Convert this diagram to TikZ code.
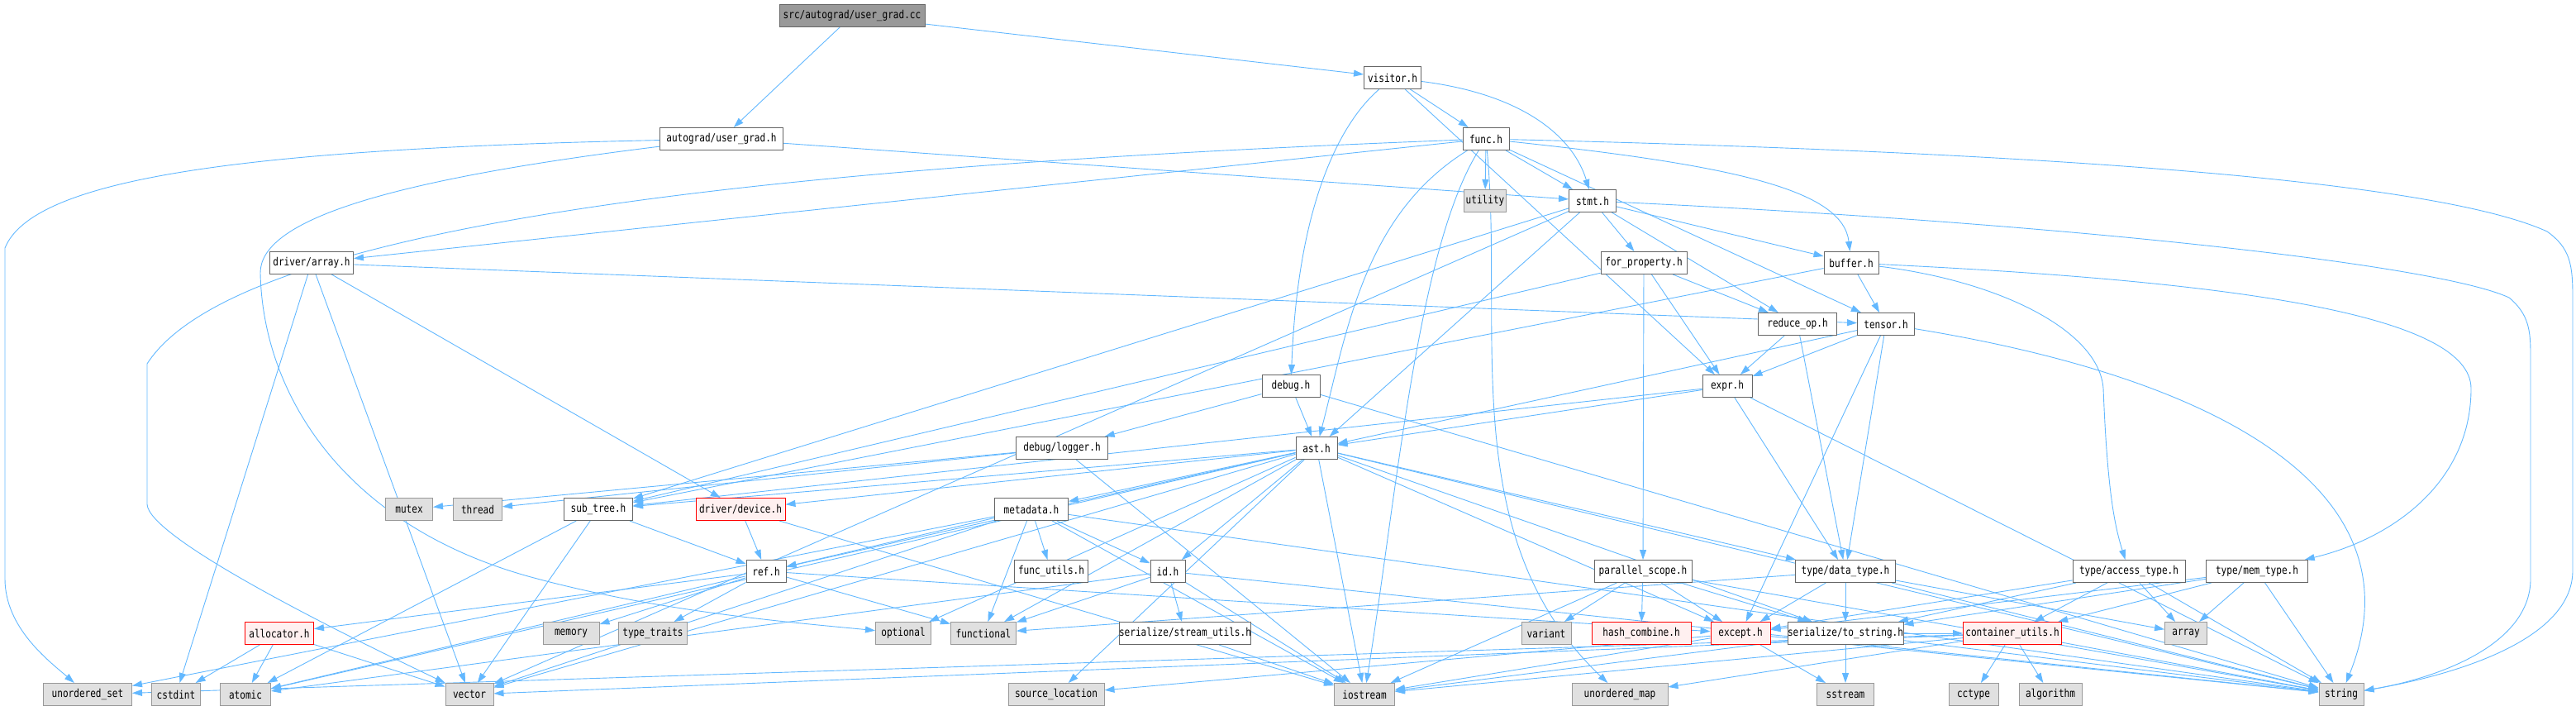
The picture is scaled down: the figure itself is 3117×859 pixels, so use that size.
\documentclass[tikz,border=0pt]{standalone}
\usepackage{fontspec}
\newfontfamily\dfont[FakeStretch=0.82]{DejaVu Sans Mono}
\usetikzlibrary{arrows.meta}
\definecolor{edgec}{HTML}{63B8FF}
\definecolor{bord}{HTML}{666666}
\definecolor{gfill}{HTML}{E0E0E0}
\definecolor{gbord}{HTML}{999999}
\definecolor{rfill}{HTML}{FFF0F0}
\definecolor{rootc}{HTML}{999999}
\pgfdeclarelayer{bg}
\pgfsetlayers{bg,main}
\tikzset{
 nd/.style={draw=bord, fill=white, rectangle, minimum height=27pt, inner sep=0pt, line width=1pt, font={\dfont\fontsize{13.5}{14}\selectfont}},
 sysnd/.style={nd, draw=gbord, fill=gfill},
 rednd/.style={nd, draw=red, fill=rfill},
 rootnd/.style={nd, fill=rootc},
 e/.style={draw=edgec, line width=0.9pt, -{Triangle[length=12pt,width=8pt]}},
}
\begin{document}
\begin{tikzpicture}[x=1pt,y=-1pt]
\useasboundingbox (0,0) rectangle (3117,859);
\node[rootnd, minimum width=176pt] (cc) at (1031,19) {src/autograd/user\_grad.cc};
\node[nd, minimum width=149pt] (ugh) at (873,168) {autograd/user\_grad.h};
\node[nd, minimum width=69pt] (vis) at (1685,94) {visitor.h};
\node[nd, minimum width=56pt] (func) at (1798,168) {func.h};
\node[sysnd, minimum width=51pt] (util) at (1797,243) {utility};
\node[nd, minimum width=57pt] (stmt) at (1927,243) {stmt.h};
\node[nd, minimum width=101pt] (darr) at (377,318) {driver/array.h};
\node[nd, minimum width=104pt] (forp) at (1989,318) {for\_property.h};
\node[nd, minimum width=66pt] (buf) at (2240,318) {buffer.h};
\node[nd, minimum width=95pt] (red) at (2175,392) {reduce\_op.h};
\node[nd, minimum width=69pt] (tens) at (2282,392) {tensor.h};
\node[nd, minimum width=70pt] (dbg) at (1562,467) {debug.h};
\node[nd, minimum width=60pt] (expr) at (2090,467) {expr.h};
\node[nd, minimum width=111pt] (log) at (1285,542) {debug/logger.h};
\node[nd, minimum width=50pt] (ast) at (1593,542) {ast.h};
\node[sysnd, minimum width=57pt] (mutex) at (495,616) {mutex};
\node[sysnd, minimum width=59pt] (thread) at (578,616) {thread};
\node[nd, minimum width=83pt] (subt) at (724,616) {sub\_tree.h};
\node[rednd, minimum width=108pt] (dev) at (896,616) {driver/device.h};
\node[nd, minimum width=89pt] (meta) at (1248,616) {metadata.h};
\node[nd, minimum width=48pt] (ref) at (927,691) {ref.h};
\node[nd, minimum width=89pt] (fu) at (1272,691) {func\_utils.h};
\node[nd, minimum width=42pt] (id) at (1413,691) {id.h};
\node[nd, minimum width=118pt] (ps) at (1988,691) {parallel\_scope.h};
\node[nd, minimum width=121pt] (dt) at (2233,691) {type/data\_type.h};
\node[nd, minimum width=136pt] (at) at (2576,691) {type/access\_type.h};
\node[nd, minimum width=123pt] (mt) at (2731,691) {type/mem\_type.h};
\node[rednd, minimum width=83pt] (alloc) at (338,766) {allocator.h};
\node[sysnd, minimum width=68pt] (memory) at (691,766) {memory};
\node[sysnd, minimum width=83pt] (tt) at (790,766) {type\_traits};
\node[sysnd, minimum width=67pt] (opt) at (1093,766) {optional};
\node[sysnd, minimum width=79pt] (fn) at (1190,766) {functional};
\node[nd, minimum width=158pt] (su) at (1434,766) {serialize/stream\_utils.h};
\node[sysnd, minimum width=60pt] (variant) at (1871,766) {variant};
\node[rednd, minimum width=120pt] (hc) at (1986,766) {hash\_combine.h};
\node[rednd, minimum width=72pt] (exc) at (2106,766) {except.h};
\node[nd, minimum width=135pt] (ts) at (2233,766) {serialize/to\_string.h};
\node[rednd, minimum width=119pt] (cu) at (2435,766) {container\_utils.h};
\node[sysnd, minimum width=51pt] (arr) at (2645,766) {array};
\node[sysnd, minimum width=107pt] (us) at (106,840) {unordered\_set};
\node[sysnd, minimum width=59pt] (cstd) at (213,840) {cstdint};
\node[sysnd, minimum width=61pt] (atom) at (297,840) {atomic};
\node[sysnd, minimum width=58pt] (vec) at (568,840) {vector};
\node[sysnd, minimum width=116pt] (sl) at (1278,840) {source\_location};
\node[sysnd, minimum width=73pt] (ios) at (1651,840) {iostream};
\node[sysnd, minimum width=116pt] (um) at (1960,840) {unordered\_map};
\node[sysnd, minimum width=69pt] (ss) at (2233,840) {sstream};
\node[sysnd, minimum width=60pt] (cct) at (2388,840) {cctype};
\node[sysnd, minimum width=76pt] (alg) at (2481,840) {algorithm};
\node[sysnd, minimum width=54pt] (str) at (2833,840) {string};

\begin{pgfonlayer}{bg}
\draw[e] (ugh) .. controls (300,180) and (40,215) .. (6,300) -- (6,700) .. controls (6,760) and (60,800) .. (us);
\draw[e] (ugh) .. controls (450,220) and (315,270) .. (315,330) .. controls (318,480) and (420,640) .. (650,700) .. controls (800,740) and (950,752) .. (opt);
\draw[e] (func) .. controls (1100,195) and (300,250) .. (178,440) -- (178,610) .. controls (180,650) and (400,760) .. (vec);
\draw[e] (func) .. controls (2500,185) and (2950,220) .. (3082,280) .. controls (3110,300) and (3113,320) .. (3113,360) -- (3113,690) .. controls (3113,780) and (2950,820) .. (str);
\draw[e] (stmt) .. controls (2500,270) and (2950,320) .. (3036,360) .. controls (3060,380) and (3062,400) .. (3062,430) -- (3062,700) .. controls (3062,780) and (2950,820) .. (str);
\draw[e] (buf) .. controls (2700,340) and (2990,380) .. (2990,470) .. controls (2990,580) and (2900,650) .. (mt);
\draw[e] (buf) .. controls (2420,340) and (2540,400) .. (2545,470) .. controls (2550,600) and (2560,640) .. (at);
\draw[e] (tens) .. controls (2700,460) and (2930,600) .. (str);
\draw[e] (vis) .. controls (1620,150) and (1570,250) .. (dbg);
\draw[e] (vis) .. controls (1850,115) and (1905,170) .. (stmt);
\draw[e] (func) .. controls (2100,200) and (2230,230) .. (buf);
\draw[e] (func) .. controls (1820,400) and (1760,650) .. (um);
\draw[e] (func) .. controls (1650,260) and (1630,400) .. (ast);
\draw[e] (func) .. controls (1715,300) and (1690,600) .. (ios);
\foreach \t in {ugh,vis} \draw[e] (cc) -- (\t);
\draw[e] (ugh) -- (stmt);
\foreach \t in {func,expr} \draw[e] (vis) -- (\t);
\foreach \t in {util,stmt,tens,darr} \draw[e] (func) -- (\t);
\foreach \t in {forp,buf,red,ast,vec,subt} \draw[e] (stmt) -- (\t);
\foreach \t in {tens,cstd,vec,dev} \draw[e] (darr) -- (\t);
\foreach \t in {red,expr,ps,subt} \draw[e] (forp) -- (\t);
\foreach \t in {tens,subt} \draw[e] (buf) -- (\t);
\foreach \t in {expr,dt} \draw[e] (red) -- (\t);
\foreach \t in {expr,dt,exc,ast} \draw[e] (tens) -- (\t);
\foreach \t in {ast,log,str} \draw[e] (dbg) -- (\t);
\foreach \t in {ast,dt,str,subt} \draw[e] (expr) -- (\t);
\foreach \t in {mutex,thread,ios} \draw[e] (log) -- (\t);
\foreach \t in {dev,meta,id,ref,dt,ts,str,ios,fn,opt,sl,atom,subt,exc,vec} \draw[e] (ast) -- (\t);
\foreach \t in {ref,fu,id,fn,ios,str,vec,us} \draw[e] (meta) -- (\t);
\foreach \t in {tt,fn,memory,alloc,exc,atom} \draw[e] (ref) -- (\t);
\foreach \t in {ref,ios} \draw[e] (dev) -- (\t);
\foreach \t in {fn,su,ios,atom,str} \draw[e] (id) -- (\t);
\foreach \t in {ref,vec,atom} \draw[e] (subt) -- (\t);
\draw[e] (su) -- (ios);
\foreach \t in {cstd,atom,vec} \draw[e] (alloc) -- (\t);
\foreach \t in {variant,hc,exc,ts,ios,str} \draw[e] (ps) -- (\t);
\foreach \t in {exc,ts,str,fn,arr} \draw[e] (dt) -- (\t);
\foreach \t in {cu,arr,str,ts,exc} \draw[e] (at) -- (\t);
\foreach \t in {cu,arr,str,ts,exc} \draw[e] (mt) -- (\t);
\foreach \t in {ios,ss,str,sl} \draw[e] (exc) -- (\t);
\foreach \t in {ss,ios,str,cu} \draw[e] (ts) -- (\t);
\foreach \t in {cct,alg,str,ios,um,us,vec} \draw[e] (cu) -- (\t);
\end{pgfonlayer}
\end{tikzpicture}
\end{document}
